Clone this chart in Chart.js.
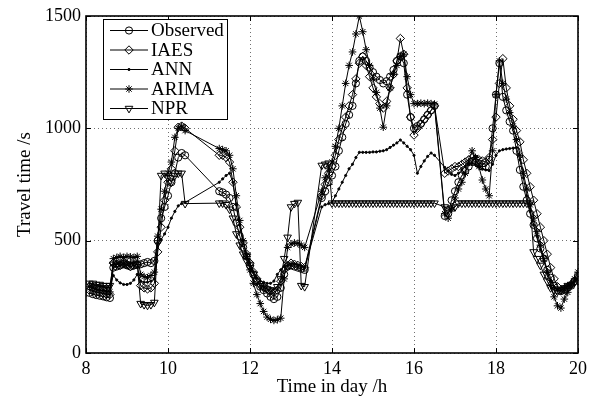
<!DOCTYPE html>
<html><head><meta charset="utf-8">
<script src="https://cdn.jsdelivr.net/npm/chart.js@4.4.0/dist/chart.umd.min.js"></script>
<style>html,body{margin:0;padding:0;background:#fff}canvas{display:block}</style>
</head><body>
<canvas id="c" width="592" height="403"></canvas>
<script>
// time of day (hours); data have gaps (10:25-11:15, 13:20-13:45, 16:30-16:45)
const times = [
  8.083, 8.167, 8.25, 8.333, 8.417, 8.5, 8.583, 8.667, 8.75, 8.833, 8.917, 9.0, 9.083, 9.167, 9.25,
  9.333, 9.417, 9.5, 9.583, 9.667, 9.75, 9.833, 9.917, 10.0, 10.083, 10.167, 10.25, 10.333, 10.417,
  11.25, 11.333, 11.417, 11.5, 11.583, 11.667, 11.75, 11.833, 11.917, 12.0, 12.083, 12.167, 12.25,
  12.333, 12.417, 12.5, 12.583, 12.667, 12.75, 12.833, 12.917, 13.0, 13.083, 13.167, 13.25, 13.333,
  13.75, 13.833, 13.917, 14.0, 14.083, 14.167, 14.25, 14.333, 14.417, 14.5, 14.583, 14.667, 14.75,
  14.833, 14.917, 15.0, 15.083, 15.167, 15.25, 15.333, 15.417, 15.5, 15.583, 15.667, 15.75, 15.833,
  15.917, 16.0, 16.083, 16.167, 16.25, 16.333, 16.417, 16.5,
  16.75, 16.833, 16.917, 17.0, 17.083, 17.167, 17.25, 17.333, 17.417, 17.5, 17.583, 17.667, 17.75,
  17.833, 17.917, 18.0, 18.083, 18.167, 18.25, 18.333, 18.417, 18.5, 18.583, 18.667, 18.75, 18.833,
  18.917, 19.0, 19.083, 19.167, 19.25, 19.333, 19.417, 19.5, 19.583, 19.667, 19.75, 19.833, 19.917, 20.0
];
const observed = [
  268, 262, 258, 255, 252, 248, 245, 380, 385, 390, 395, 390, 385, 390, 392,
  395, 400, 405, 400, 410, 500, 600, 650, 700, 760, 800, 870, 890, 880,
  720, 715, 705, 690, 650, 580, 520, 470, 430, 390, 350, 320, 295,
  280, 265, 250, 240, 250, 290, 350, 385, 390, 385, 380, 375, 370,
  690, 720, 760, 790, 830, 900, 960, 1020, 1060, 1100, 1200, 1300, 1320,
  1300, 1270, 1250, 1230, 1215, 1200, 1210, 1230, 1260, 1300, 1320, 1290, 1150,
  1050, 1000, 1010, 1020, 1040, 1060, 1080, 1100,
  610, 620, 680, 720, 760, 790, 810, 830, 850, 850, 840, 830, 830,
  860, 1000, 1150, 1290, 1140, 1080, 1030, 990, 900, 815, 740, 680, 620,
  570, 510, 465, 420, 370, 335, 300, 280, 275, 280, 290, 300, 320, 345
];
const iaes = [
  280, 275, 270, 268, 265, 262, 260, 400, 395, 390, 400, 395, 385, 390, 395,
  300, 290, 285, 290, 310, 450, 560, 680, 760, 820, 900, 1005, 1010, 1000,
  880, 880, 870, 850, 760, 650, 560, 490, 440, 400, 360, 330, 305,
  295, 285, 275, 270, 280, 320, 370, 390, 400, 395, 390, 385, 380,
  700, 750, 800, 830, 880, 950, 1000, 1050, 1100, 1150, 1220, 1290, 1320,
  1280, 1230, 1180, 1140, 1110, 1090, 1120, 1180, 1240, 1300, 1400, 1330, 1180,
  1050, 970, 1000, 1020, 1040, 1060, 1080, 1100,
  800, 810, 820, 830, 830, 840, 850, 860, 870, 865, 860, 855, 850,
  870, 950, 1050, 1200, 1310, 1180, 1100, 1040, 990, 940, 860, 800, 740,
  680, 620, 560, 500, 440, 380, 330, 295, 280, 285, 295, 305, 320, 335
];
const ann = [
  310, 305, 300, 298, 295, 292, 290, 345, 325, 312, 305, 305, 310, 325, 350,
  320, 315, 315, 320, 330, 490, 505, 530, 560, 600, 630, 655, 665, 670,
  760, 775, 790, 800, 760, 660, 570, 500, 440, 400, 360, 335, 320,
  315, 310, 310, 320, 350, 370, 385, 390, 395, 395, 390, 385, 380,
  650, 660, 665, 670, 700, 730, 760, 790, 820, 840, 870, 893, 893,
  893, 893, 895, 895, 898, 900, 905, 915, 925, 935, 948, 935, 920,
  905, 880, 800, 830, 855, 875, 890, 880,
  826, 810, 795, 790, 800, 815, 830, 840, 845, 840, 830, 820, 815,
  812, 840, 880, 900, 905, 908, 910, 912, 914, 860, 780, 700, 630,
  570, 520, 460, 410, 360, 320, 295, 280, 280, 290, 300, 310, 320, 330
];
const arima = [
  295, 290, 285, 280, 278, 275, 272, 420, 425, 430, 425, 430, 428, 425, 430,
  350, 340, 335, 345, 360, 520, 640, 720, 800, 850, 960, 1000, 1010, 990,
  910, 905, 900, 880, 820, 700, 590, 500, 430, 370, 310, 260, 220,
  185, 160, 150, 145, 148, 155, 330, 470, 485, 490, 488, 480, 470,
  720, 780, 820, 850, 920, 1000, 1100, 1200, 1280, 1340, 1420, 1500, 1430,
  1350, 1280, 1220, 1160, 1090, 1005, 1100, 1180, 1240, 1280, 1320, 1330, 1230,
  1150, 1110, 1110, 1112, 1110, 1112, 1110, 1108,
  620, 600, 640, 690, 730, 760, 800, 850, 900, 870, 830, 770, 730,
  700, 900, 1150, 1300, 1200, 1130, 1070, 1010, 950, 880, 800, 730, 660,
  600, 540, 480, 420, 360, 300, 250, 210, 200, 240, 270, 300, 330, 360
];
const npr = [
  310, 310, 305, 305, 300, 300, 300, 395, 395, 400, 400, 395, 395, 400, 395,
  220, 215, 212, 215, 225, 490, 790, 800, 780, 760, 790, 800, 800, 665,
  667, 667, 660, 640, 600, 530, 480, 440, 410, 380, 350, 320, 300,
  290, 285, 280, 280, 295, 330, 420, 515, 650, 665, 670, 300, 295,
  835, 840, 845, 667, 667, 667, 667, 667, 667, 667, 667, 667, 667,
  667, 667, 667, 667, 667, 667, 667, 667, 667, 667, 667, 667, 667,
  667, 667, 667, 667, 667, 667, 667, 667,
  650, 640, 645, 650, 667, 667, 667, 667, 667, 667, 667, 667, 667,
  667, 667, 667, 667, 667, 667, 667, 667, 667, 667, 667, 667, 667,
  450, 420, 390, 350, 320, 290, 280, 275, 280, 290, 300, 305, 315, 320
];
const seriesNames = ['Observed', 'IAES', 'ANN', 'ARIMA', 'NPR'];
const xTickValues = [8, 10, 12, 14, 16, 18, 20];
const yTickValues = [0, 500, 1000, 1500];

const seriesValues = [observed, iaes, ann, arima, npr];
const markerStyles = [
  {pointStyle: 'circle', radius: 3.6, rotation: 0, fill: false},
  {pointStyle: 'rectRot', radius: 4.2, rotation: 0, fill: false},
  {pointStyle: 'circle', radius: 1.1, rotation: 0, fill: true},
  {pointStyle: 'star', radius: 3.8, rotation: 0, fill: false},
  {pointStyle: 'triangle', radius: 4.4, rotation: 180, fill: false}
];
const SERIF = '"Liberation Serif", "Times New Roman", serif';

const datasets = seriesNames.map((name, i) => ({
  label: name,
  data: times.map((t, k) => ({x: t, y: seriesValues[i][k]})),
  borderColor: '#000',
  borderWidth: 1,
  backgroundColor: markerStyles[i].fill ? '#000' : 'rgba(0,0,0,0)',
  pointStyle: markerStyles[i].pointStyle,
  pointRadius: markerStyles[i].radius,
  pointRotation: markerStyles[i].rotation,
  pointBorderColor: '#000',
  pointBackgroundColor: markerStyles[i].fill ? '#000' : 'rgba(0,0,0,0)',
  pointBorderWidth: 1,
  tension: 0,
  fill: false
}));

const framePlugin = {
  id: 'frame',
  afterDraw(chart) {
    const ctx = chart.ctx;
    const a = chart.chartArea;
    const xs = chart.scales.x, ys = chart.scales.y;
    ctx.save();
    ctx.strokeStyle = '#000';
    ctx.lineWidth = 1;
    ctx.beginPath();
    xTickValues.forEach(v => {
      const px = Math.round(xs.getPixelForValue(v)) + 0.5;
      ctx.moveTo(px, a.bottom); ctx.lineTo(px, a.bottom - 5);
      ctx.moveTo(px, a.top); ctx.lineTo(px, a.top + 5);
    });
    yTickValues.forEach(v => {
      const py = Math.round(ys.getPixelForValue(v)) + 0.5;
      ctx.moveTo(a.left, py); ctx.lineTo(a.left + 5, py);
      ctx.moveTo(a.right, py); ctx.lineTo(a.right - 5, py);
    });
    ctx.stroke();
    ctx.lineWidth = 1.6;
    ctx.strokeRect(a.left, a.top, a.right - a.left, a.bottom - a.top);
    const bx = 103.5, by = 19.5, bw = 124, bh = 100;
    ctx.fillStyle = '#fff';
    ctx.fillRect(bx, by, bw, bh);
    ctx.lineWidth = 1;
    ctx.strokeStyle = '#000';
    ctx.strokeRect(bx, by, bw, bh);
    ctx.font = '19px ' + SERIF;
    ctx.textBaseline = 'middle';
    ctx.textAlign = 'left';
    seriesNames.forEach((name, i) => {
      const y = 30.5 + i * 19.5;
      ctx.strokeStyle = '#000';
      ctx.lineWidth = 1;
      ctx.beginPath();
      ctx.moveTo(110, y); ctx.lineTo(148, y);
      ctx.stroke();
      const m = markerStyles[i];
      ctx.fillStyle = m.fill ? '#000' : 'rgba(0,0,0,0)';
      Chart.helpers.drawPoint(ctx, {pointStyle: m.pointStyle, radius: m.radius, rotation: m.rotation, borderWidth: 1}, 129, y);
      ctx.fillStyle = '#000';
      ctx.fillText(name, 151, y + 1);
    });
    ctx.restore();
  }
};

new Chart(document.getElementById('c'), {
  type: 'line',
  data: {datasets},
  options: {
    responsive: false,
    animation: false,
    events: [],
    layout: {padding: {left: 0, right: 14, top: 16, bottom: 0}},
    plugins: {legend: {display: false}, tooltip: {enabled: false}},
    scales: {
      x: {
        type: 'linear', min: 8, max: 20,
        afterBuildTicks: s => { s.ticks = xTickValues.map(v => ({value: v})); },
        afterFit: s => { s.height = 50; },
        grid: {color: '#707070', lineWidth: 1, drawTicks: false},
        border: {display: false, dash: [1, 3]},
        ticks: {color: '#000', font: {family: SERIF, size: 18}, padding: 5, maxRotation: 0, callback: v => String(v)},
        title: {display: true, text: 'Time in day /h', color: '#000', font: {family: SERIF, size: 19}, padding: {top: 0, bottom: 5}}
      },
      y: {
        type: 'linear', min: 0, max: 1500,
        afterBuildTicks: s => { s.ticks = yTickValues.map(v => ({value: v})); },
        afterFit: s => { s.width = 86; },
        grid: {color: '#707070', lineWidth: 1, drawTicks: false},
        border: {display: false, dash: [1, 3]},
        ticks: {color: '#000', font: {family: SERIF, size: 18}, padding: 5, callback: v => String(v)},
        title: {display: true, text: 'Travel time /s', color: '#000', font: {family: SERIF, size: 19}, padding: {top: 14, bottom: 0}}
      }
    }
  },
  plugins: [framePlugin]
});
</script>
</body></html>
